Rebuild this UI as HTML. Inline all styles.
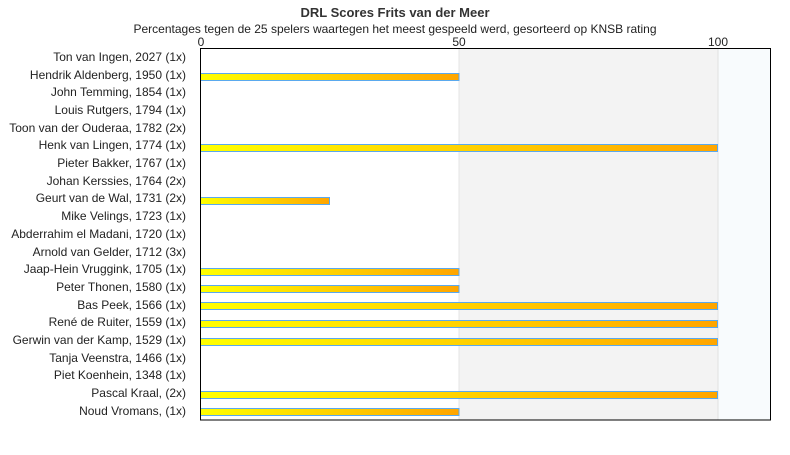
<!DOCTYPE html>
<html><head><style>
body{margin:0;background:#fff;width:790px;height:450px;overflow:hidden}
text{font-family:"Liberation Sans",sans-serif}
.b{fill:url(#g);stroke:#5aa9ee;stroke-width:1}
</style></head><body>
<svg width="790" height="450" xmlns="http://www.w3.org/2000/svg">
<defs><linearGradient id="g" x1="0" x2="1" y1="0" y2="0"><stop offset="0" stop-color="#ffff00"/><stop offset="1" stop-color="#ffa500"/></linearGradient></defs>
<text x="395" y="17" text-anchor="middle" font-size="13" font-weight="bold" fill="#333">DRL Scores Frits van der Meer</text>
<text x="395" y="33" text-anchor="middle" font-size="12" fill="#222">Percentages tegen de 25 spelers waartegen het meest gespeeld werd, gesorteerd op KNSB rating</text>
<text x="201" y="46" text-anchor="middle" font-size="12" fill="#222">0</text>
<text x="459" y="46" text-anchor="middle" font-size="12" fill="#222">50</text>
<text x="718" y="46" text-anchor="middle" font-size="12" fill="#222">100</text>
<rect x="459" y="49" width="259" height="371" fill="#f3f3f3"/>
<rect x="718" y="49" width="52" height="371" fill="#f8fbfd"/>
<line x1="459" y1="49" x2="459" y2="420" stroke="#e6e6e6"/>
<line x1="718" y1="49" x2="718" y2="420" stroke="#e0e0e0"/>
<g font-size="12" fill="#222" text-anchor="end">
<text x="186" y="61">Ton van Ingen, 2027 (1x)</text>
<text x="186" y="79">Hendrik Aldenberg, 1950 (1x)</text>
<text x="186" y="96">John Temming, 1854 (1x)</text>
<text x="186" y="114">Louis Rutgers, 1794 (1x)</text>
<text x="186" y="132">Toon van der Ouderaa, 1782 (2x)</text>
<text x="186" y="149">Henk van Lingen, 1774 (1x)</text>
<text x="186" y="167">Pieter Bakker, 1767 (1x)</text>
<text x="186" y="185">Johan Kerssies, 1764 (2x)</text>
<text x="186" y="202">Geurt van de Wal, 1731 (2x)</text>
<text x="186" y="220">Mike Velings, 1723 (1x)</text>
<text x="186" y="238">Abderrahim el Madani, 1720 (1x)</text>
<text x="186" y="256">Arnold van Gelder, 1712 (3x)</text>
<text x="186" y="273">Jaap-Hein Vruggink, 1705 (1x)</text>
<text x="186" y="291">Peter Thonen, 1580 (1x)</text>
<text x="186" y="309">Bas Peek, 1566 (1x)</text>
<text x="186" y="326">René de Ruiter, 1559 (1x)</text>
<text x="186" y="344">Gerwin van der Kamp, 1529 (1x)</text>
<text x="186" y="362">Tanja Veenstra, 1466 (1x)</text>
<text x="186" y="379">Piet Koenhein, 1348 (1x)</text>
<text x="186" y="397">Pascal Kraal,  (2x)</text>
<text x="186" y="415">Noud Vromans,  (1x)</text>
</g>
<rect class="b" x="200.5" y="73.5" width="258.5" height="7"/>
<rect class="b" x="200.5" y="144.5" width="517" height="7"/>
<rect class="b" x="200.5" y="197.5" width="129" height="7"/>
<rect class="b" x="200.5" y="268.5" width="258.5" height="7"/>
<rect class="b" x="200.5" y="285.5" width="258.5" height="7"/>
<rect class="b" x="200.5" y="302.5" width="517" height="7"/>
<rect class="b" x="200.5" y="320.5" width="517" height="7"/>
<rect class="b" x="200.5" y="338.5" width="517" height="7"/>
<rect class="b" x="200.5" y="391.5" width="517" height="7"/>
<rect class="b" x="200.5" y="408.5" width="258.5" height="7"/>
<rect x="200.5" y="48.5" width="570" height="371.5" fill="none" stroke="#000"/>
</svg>
</body></html>
